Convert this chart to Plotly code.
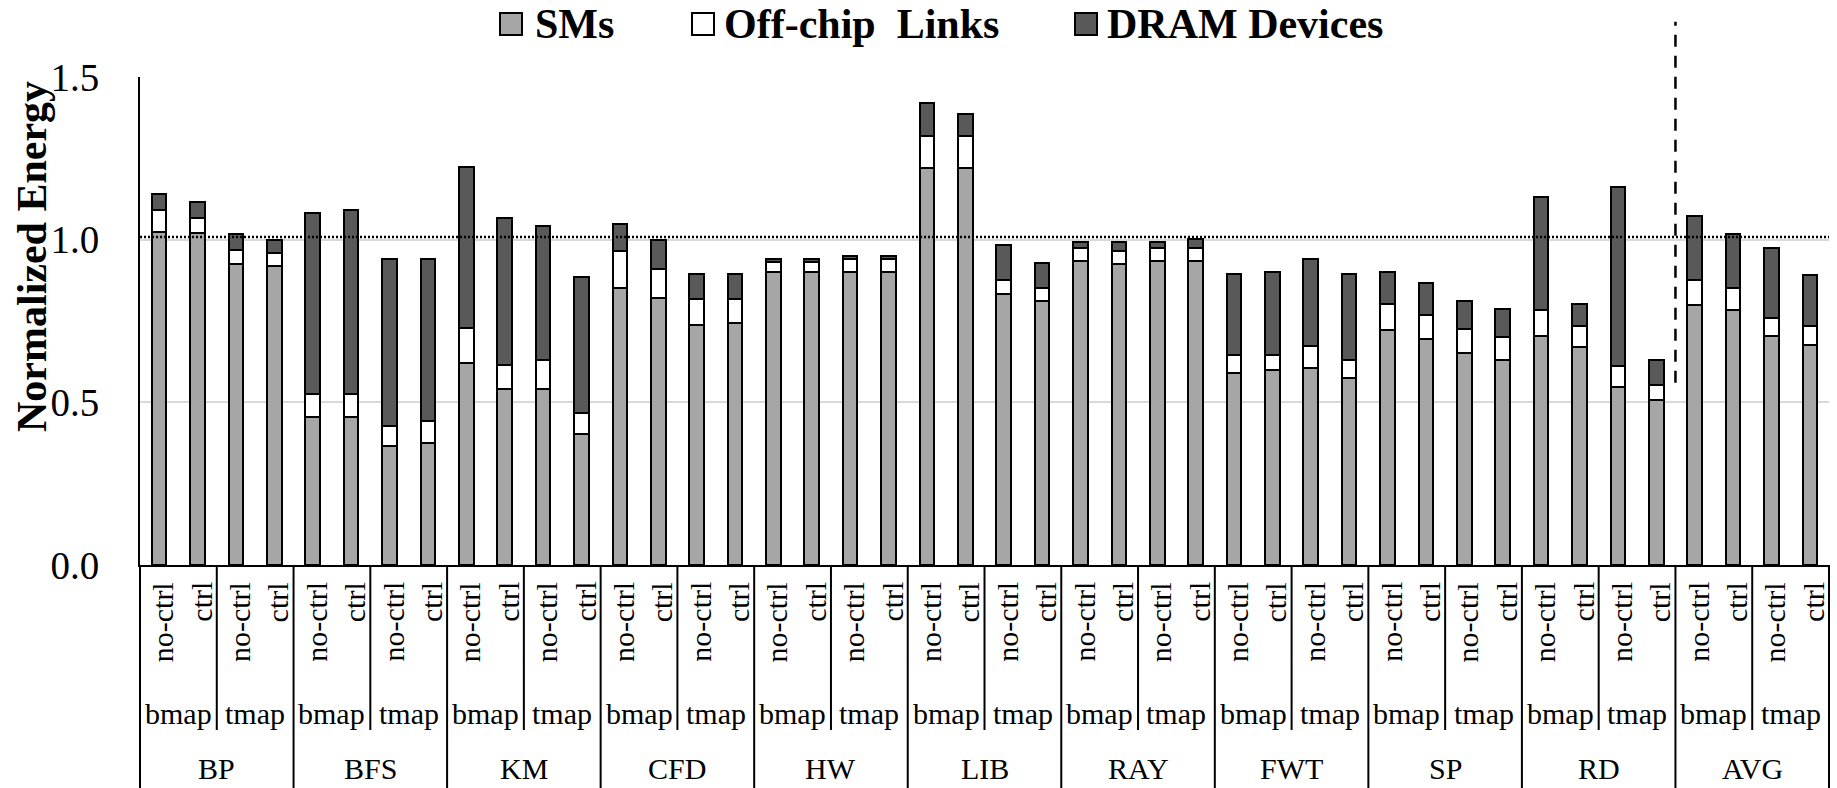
import plotly.graph_objects as go

# ---- data -------------------------------------------------------------
benchmarks = ["BP", "BFS", "KM", "CFD", "HW", "LIB", "RAY", "FWT", "SP", "RD", "AVG"]
mappings = ["bmap", "tmap"]
controls = ["no-ctrl", "ctrl"]

sm_energy = [1.025, 1.019, 0.926, 0.918, 0.456, 0.456, 0.367, 0.376,
             0.622, 0.540, 0.540, 0.403, 0.852, 0.820, 0.738, 0.745,
             0.901, 0.901, 0.901, 0.901, 1.221, 1.221, 0.834, 0.810,
             0.934, 0.925, 0.934, 0.934, 0.590, 0.598, 0.606, 0.574,
             0.721, 0.695, 0.653, 0.629, 0.703, 0.671, 0.547, 0.506,
             0.800, 0.785, 0.705, 0.677]
link_energy = [0.066, 0.047, 0.041, 0.041, 0.070, 0.070, 0.061, 0.067,
               0.108, 0.075, 0.091, 0.064, 0.114, 0.089, 0.080, 0.073,
               0.031, 0.031, 0.039, 0.039, 0.097, 0.097, 0.041, 0.040,
               0.040, 0.041, 0.040, 0.040, 0.056, 0.048, 0.066, 0.057,
               0.081, 0.073, 0.073, 0.073, 0.081, 0.064, 0.065, 0.047,
               0.077, 0.066, 0.055, 0.058]
dram_energy = [0.049, 0.050, 0.051, 0.041, 0.557, 0.565, 0.514, 0.499,
               0.492, 0.451, 0.412, 0.418, 0.083, 0.091, 0.076, 0.076,
               0.010, 0.010, 0.010, 0.010, 0.101, 0.068, 0.109, 0.077,
               0.019, 0.027, 0.019, 0.027, 0.248, 0.256, 0.270, 0.263,
               0.100, 0.099, 0.084, 0.084, 0.346, 0.067, 0.551, 0.078,
               0.196, 0.166, 0.215, 0.157]

y_ticks = [0.0, 0.5, 1.0, 1.5]
y_tick_text = ["0.0", "0.5", "1.0", "1.5"]

# ---- styling / geometry -------------------------------------------------
W, H = 1837, 788
ML, MR, MT, MB = 140, 8, 77, 223
PW, PH = W - ML - MR, H - MT - MB
Y_MAX = 1.5
SERIF = "Liberation Serif, Times New Roman, serif"
C_SM, C_LINK, C_DRAM = "#a6a6a6", "#ffffff", "#595959"
BASELINE = 1.008          # dotted reference line
SPLIT_Y = (0.56, 1.67)    # dashed divider before the average group

per_group = len(mappings) * len(controls)
n_bars = len(benchmarks) * per_group
xs = list(range(n_bars))


def px_x(p):
    return (p - ML) / PW


def px_y(p):
    return (H - MB - p) / PH


fig = go.Figure()
for name, vals, color in [("SMs", sm_energy, C_SM),
                          ("Off-chip  Links", link_energy, C_LINK),
                          ("DRAM Devices", dram_energy, C_DRAM)]:
    fig.add_trace(go.Bar(x=xs, y=vals, name=name, width=0.38,
                         marker=dict(color=color, line=dict(color="black", width=2)),
                         showlegend=False))

shapes = []
annotations = []

# category separators below the axis
for k in range(0, n_bars + 1, 2):
    full = (k % per_group == 0)
    shapes.append(dict(type="line", xref="paper", yref="paper",
                       x0=k / n_bars, x1=k / n_bars, y0=0,
                       y1=px_y(H + 2) if full else px_y(730),
                       line=dict(color="black", width=2)))

# dotted baseline
shapes.append(dict(type="line", xref="paper", yref="paper", x0=0, x1=1,
                   y0=BASELINE / Y_MAX, y1=BASELINE / Y_MAX,
                   line=dict(color="black", width=2.5, dash="2px,2px")))

# dashed divider before AVG
kx = (n_bars - per_group) / n_bars
shapes.append(dict(type="line", xref="paper", yref="paper", x0=kx, x1=kx,
                   y0=SPLIT_Y[0] / Y_MAX, y1=SPLIT_Y[1] / Y_MAX,
                   line=dict(color="black", width=2.5, dash="12px,9px")))

# axis labels: control / mapping / benchmark
lab_font = dict(family=SERIF, size=30, color="black")
for g, b in enumerate(benchmarks):
    base = g * per_group
    annotations.append(dict(text=b, x=base + (per_group - 1) / 2, xref="x",
                            y=px_y(768), yref="paper", showarrow=False,
                            xanchor="center", yanchor="middle", font=lab_font))
    for m, mp in enumerate(mappings):
        mbase = base + m * len(controls)
        annotations.append(dict(text=mp, x=mbase + (len(controls) - 1) / 2, xref="x",
                                y=px_y(713), yref="paper", showarrow=False,
                                xanchor="center", yanchor="middle", font=lab_font))
        for c, ct in enumerate(controls):
            annotations.append(dict(text=ct, x=mbase + c + 0.08, xref="x",
                                    y=px_y(580), yref="paper", showarrow=False,
                                    textangle=-90, xanchor="center", yanchor="top",
                                    font=lab_font))

# y-axis title
annotations.append(dict(text="<b>Normalized Energy</b>", xref="paper", yref="paper",
                        x=px_x(32), y=px_y(257), textangle=-90, showarrow=False,
                        xanchor="center", yanchor="middle",
                        font=dict(family=SERIF, size=42, color="black")))

# legend
leg_font = dict(family=SERIF, size=42, color="black")
for (bx, tx, color, label) in [(500, 533, C_SM, "SMs"),
                               (692, 722, C_LINK, "Off-chip  Links"),
                               (1075, 1105, C_DRAM, "DRAM Devices")]:
    shapes.append(dict(type="rect", xref="paper", yref="paper",
                       x0=px_x(bx), x1=px_x(bx + 22), y0=px_y(35), y1=px_y(13),
                       fillcolor=color, line=dict(color="black", width=2)))
    annotations.append(dict(text="<b>%s</b>" % label, xref="paper", yref="paper",
                            x=px_x(tx), y=px_y(24), showarrow=False,
                            xanchor="left", yanchor="middle", font=leg_font))

fig.update_layout(
    width=W, height=H,
    margin=dict(l=ML, r=MR, t=MT, b=MB, pad=0),
    barmode="stack",
    plot_bgcolor="white", paper_bgcolor="white",
    shapes=shapes, annotations=annotations,
    xaxis=dict(range=[-0.5, n_bars - 0.5], showgrid=False, zeroline=False,
               showticklabels=False, ticks="", showline=True,
               linecolor="black", linewidth=2, fixedrange=True),
    yaxis=dict(range=[0, Y_MAX], tickvals=y_ticks, ticktext=y_tick_text,
               showgrid=True, gridcolor="#d9d9d9", gridwidth=2,
               zeroline=False, showline=True, linecolor="black", linewidth=2,
               ticks="", ticklabelstandoff=31,
               tickfont=dict(family=SERIF, size=39, color="black"),
               fixedrange=True),
)

fig.write_html("out.html")
